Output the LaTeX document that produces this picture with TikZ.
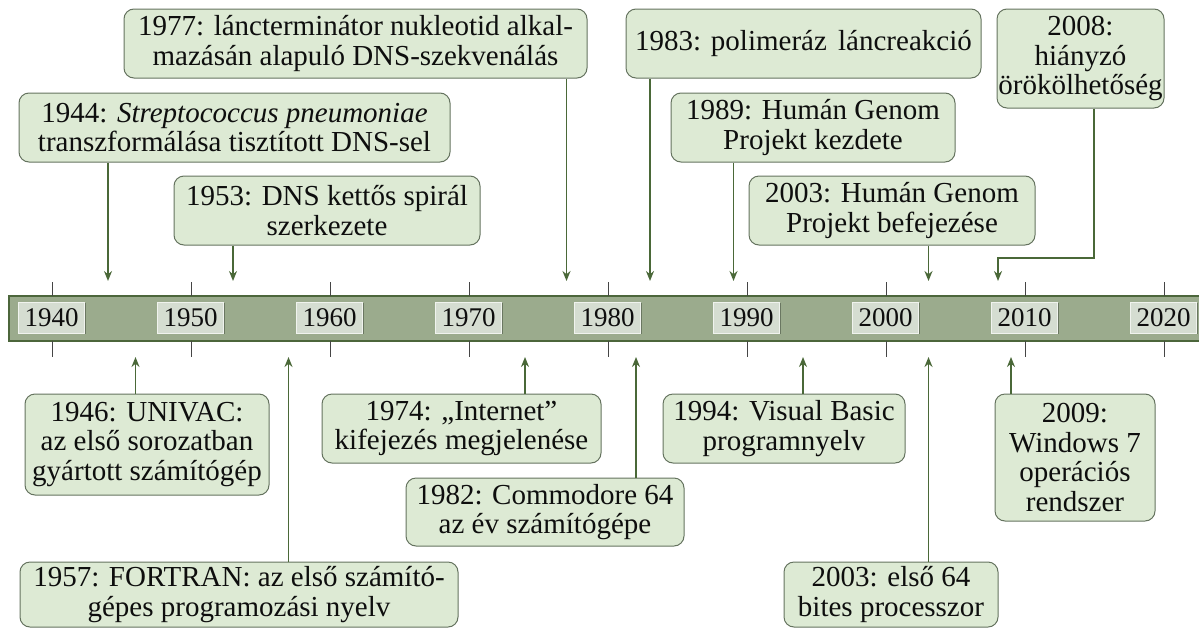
\documentclass[tikz,border=0pt]{standalone}
\usepackage{fontspec}
\setmainfont{Liberation Serif}
\usetikzlibrary{arrows.meta,shadows}

\definecolor{boxfill}{HTML}{DDEAD4}
\definecolor{boxline}{HTML}{65735F}
\definecolor{arrowc}{HTML}{4A6838}
\definecolor{barfill}{HTML}{9BAB8D}
\definecolor{barline}{HTML}{4C663B}
\definecolor{tickc}{HTML}{454545}
\definecolor{yearfill}{HTML}{D5DDD1}
\definecolor{yearedge}{HTML}{F0F3EE}
\definecolor{yearshade}{HTML}{5E6B57}
\definecolor{textc}{HTML}{0E0E0E}

\newcommand\evfont{\fontsize{29}{29.8}\selectfont}
\newcommand\yrfont{\fontsize{27}{27}\selectfont}

% event box given by its left, top, right and bottom edges
\newcommand\placeevent[6]{%
  \node[evbox, minimum width={#4-#2}, minimum height={#5-#3}]
    (#1) at ({(#2+#4)/2},{(#3+#5)/2}) {#6};}

\begin{document}
\begin{tikzpicture}[x=1pt,y=-1pt,
  evbox/.style={draw=boxline, fill=boxfill, rounded corners=10pt,
    line width=1pt, inner sep=0pt, align=center, font=\evfont, text=textc},
  conn/.style={draw=arrowc, line width=1.7pt,
    -{Stealth[length=10pt,width=8pt]}},
  tickline/.style={draw=tickc, line width=1pt},
  yearbox/.style={fill=yearfill, draw=yearedge, line width=1pt,
    minimum width=66pt, minimum height=31pt, inner sep=0pt,
    font=\yrfont, text=textc,
    drop shadow={shadow xshift=1.3pt, shadow yshift=-1.3pt,
      fill=yearshade, opacity=0.8}},
  barstyle/.style={fill=barfill, draw=barline, line width=2.2pt}]

\useasboundingbox (0,0) rectangle (1199,627);

% time axis
\draw[barstyle] (9,296) rectangle (1215,341);
\foreach \k/\yr in {0/1940,1/1950,2/1960,3/1970,4/1980,5/1990,6/2000,7/2010,8/2020}{
  \pgfmathsetmacro\xx{52.5+139*\k}
  \draw[tickline] (\xx,282) -- (\xx,296);
  \draw[tickline] (\xx,341) -- (\xx,357);
  \node[yearbox] (y\yr) at (\xx-1,317.5) {\yr};
}

% arrow tips on the axis (above and below)
\coordinate (t1944) at (108,281);
\coordinate (t1953) at (233,281);
\coordinate (t1977) at (566.5,281);
\coordinate (t1983) at (650,281);
\coordinate (t1989) at (733.5,281);
\coordinate (t2003a) at (928.5,281);
\coordinate (t2008) at (998,281);
\coordinate (k2008) at (1094,258);
\coordinate (t1946) at (135.5,357);
\coordinate (t1957) at (288.5,357);
\coordinate (t1974) at (525,357);
\coordinate (t1982) at (636,357);
\coordinate (t1994) at (803,357);
\coordinate (t2003b) at (928.5,357);
\coordinate (t2009) at (1011,357);

% events above the axis
\placeevent{b1977}{124}{9}{587}{78}{1977: láncterminátor nukleotid alkal-\\mazásán alapuló DNS-szekvenálás}
\placeevent{b1944}{19}{93}{450}{162}{1944: \textit{Streptococcus pneumoniae}\\transzformálása tisztított DNS-sel}
\placeevent{b1953}{174}{176}{480}{245}{1953: DNS kettős spirál\\szerkezete}
\placeevent{b1983}{626}{9}{981}{78}{1983: polimeráz\hspace{4pt} láncreakció}
\placeevent{b1989}{671}{93}{955}{162}{1989: Humán Genom\\Projekt kezdete}
\placeevent{b2003a}{749}{176}{1035}{245}{2003: Humán Genom\\Projekt befejezése}
\placeevent{b2008}{997}{9}{1164}{108}{2008:\\hiányzó\\örökölhetőség}

% events below the axis
\placeevent{b1946}{25}{394}{269}{495}{1946: UNIVAC:\\az első sorozatban\\gyártott számítógép}
\placeevent{b1957}{20}{562}{458}{627}{1957: FORTRAN: az első számító-\\gépes programozási nyelv}
\placeevent{b1974}{322}{394}{601}{463}{1974: „Internet”\\kifejezés megjelenése}
\placeevent{b1982}{406}{478}{684}{546}{1982: Commodore 64\\az év számítógépe}
\placeevent{b1994}{663}{394}{905}{463}{1994: Visual Basic\\programnyelv}
\placeevent{b2003b}{784}{562}{998}{627}{2003: első 64\\bites processzor}
\placeevent{b2009}{995}{394}{1155}{521}{2009:\\Windows 7\\operációs\\rendszer}

% connectors
\draw[conn] (b1944.south -| t1944) -- (t1944);
\draw[conn] (b1953.south -| t1953) -- (t1953);
\draw[conn] (b1977.south -| t1977) -- (t1977);
\draw[conn] (b1983.south -| t1983) -- (t1983);
\draw[conn] (b1989.south -| t1989) -- (t1989);
\draw[conn] (b2003a.south -| t2003a) -- (t2003a);
\draw[conn] (b2008.south -| k2008) -- (k2008) -- (k2008 -| t2008) -- (t2008);
\draw[conn] (b1946.north -| t1946) -- (t1946);
\draw[conn] (b1957.north -| t1957) -- (t1957);
\draw[conn] (b1974.north -| t1974) -- (t1974);
\draw[conn] (b1982.north -| t1982) -- (t1982);
\draw[conn] (b1994.north -| t1994) -- (t1994);
\draw[conn] (b2003b.north -| t2003b) -- (t2003b);
\draw[conn] (b2009.north -| t2009) -- (t2009);
\end{tikzpicture}
\end{document}
